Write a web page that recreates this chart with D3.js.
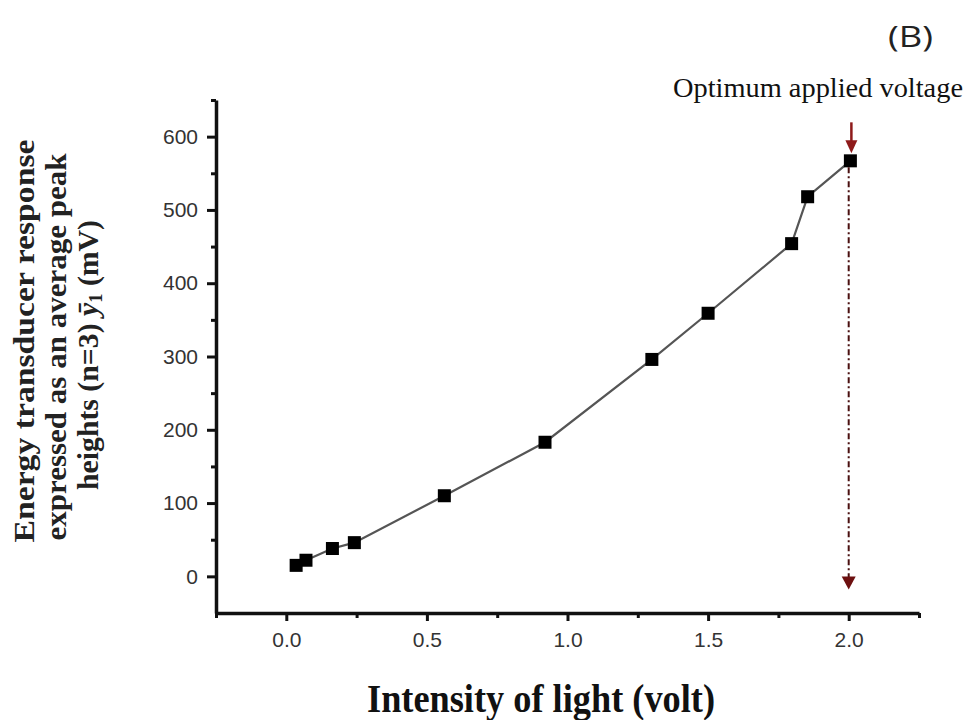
<!DOCTYPE html>
<html>
<head>
<meta charset="utf-8">
<script src="https://cdn.jsdelivr.net/npm/d3@7"></script>
<style>
  body { margin: 0; background: #fff; }
  svg { display: block; }
</style>
</head>
<body>
<div id="vis"></div>
<script>
// values
const voltage = [0.035, 0.07, 0.164, 0.242, 0.562, 0.92, 1.30, 1.50, 1.797, 1.854, 2.006];
const response = [15, 22, 38, 46, 110, 183, 296, 359, 454, 518, 567];

const xMajor = [0.0, 0.5, 1.0, 1.5, 2.0];
const xMinor = [-0.25, 0.25, 0.75, 1.25, 1.75, 2.25];
const yMajor = [0, 100, 200, 300, 400, 500, 600];
const yMinor = [50, 150, 250, 350, 450, 550, 650];

const optimumX = 2.0;
const optimumTop = 567;
const optimumBottom = -18;

const FRAME_WIDTH = 968;
const FRAME_HEIGHT = 720;
const MARGINS = { left: 216, right: 49, top: 100, bottom: 107 };

const X_SCALE = d3.scaleLinear().domain([-0.25, 2.25])
    .range([MARGINS.left, FRAME_WIDTH - MARGINS.right]);
const Y_SCALE = d3.scaleLinear().domain([-50, 650])
    .range([FRAME_HEIGHT - MARGINS.bottom, MARGINS.top]);

const FRAME = d3.select("#vis")
    .append("svg")
    .attr("width", FRAME_WIDTH)
    .attr("height", FRAME_HEIGHT);

const AXIS_Y0 = FRAME_HEIGHT - MARGINS.bottom;

// minor ticks first, then major ticks with labels
FRAME.append("g")
    .attr("transform", "translate(0," + AXIS_Y0 + ")")
    .call(d3.axisBottom(X_SCALE).tickValues(xMinor).tickSize(5).tickFormat(""))
    .call(g => g.select(".domain").remove());
FRAME.append("g")
    .attr("transform", "translate(" + MARGINS.left + ",0)")
    .call(d3.axisLeft(Y_SCALE).tickValues(yMinor).tickSize(5).tickFormat(""))
    .call(g => g.select(".domain").remove());

const xAxis = FRAME.append("g")
    .attr("transform", "translate(0," + AXIS_Y0 + ")")
    .call(d3.axisBottom(X_SCALE).tickValues(xMajor).tickSize(8).tickSizeOuter(0)
        .tickPadding(11).tickFormat(d3.format(".1f")));
const yAxis = FRAME.append("g")
    .attr("transform", "translate(" + MARGINS.left + ",0)")
    .call(d3.axisLeft(Y_SCALE).tickValues(yMajor).tickSize(9).tickSizeOuter(0)
        .tickPadding(9).tickFormat(d3.format("d")));

FRAME.selectAll(".tick line").attr("stroke", "#111").attr("stroke-width", 3);
[xAxis, yAxis].forEach(a => {
    a.select(".domain").attr("stroke", "#111").attr("stroke-width", 3.5);
    a.selectAll("text")
        .attr("font-family", "'Liberation Sans', Arial, sans-serif")
        .attr("font-size", 21)
        .attr("fill", "#333");
});

// connecting line and square markers
const line = d3.line()
    .x((d, i) => X_SCALE(voltage[i]))
    .y(d => Y_SCALE(d));

FRAME.append("path")
    .datum(response)
    .attr("d", line)
    .attr("fill", "none")
    .attr("stroke", "#555")
    .attr("stroke-width", 2.2);

const SQ = 13;
FRAME.selectAll(".pt")
    .data(response)
    .enter()
    .append("rect")
    .attr("class", "pt")
    .attr("x", (d, i) => X_SCALE(voltage[i]) - SQ / 2)
    .attr("y", d => Y_SCALE(d) - SQ / 2)
    .attr("width", SQ)
    .attr("height", SQ)
    .attr("fill", "#000");

// optimum marker: dash-dot drop line with arrowhead
const ox = X_SCALE(optimumX);
const tipY = Y_SCALE(optimumBottom);
FRAME.append("line")
    .attr("x1", ox).attr("x2", ox)
    .attr("y1", Y_SCALE(optimumTop) + SQ / 2)
    .attr("y2", tipY - 12)
    .attr("stroke", "#4a1010")
    .attr("stroke-width", 2)
    .attr("stroke-dasharray", "6,3,2,3");
FRAME.append("path")
    .attr("d", "M" + (ox - 7) + "," + (tipY - 13) + "L" + (ox + 7) + "," + (tipY - 13) + "L" + ox + "," + tipY + "Z")
    .attr("fill", "#6d1010");

// small arrow above top point
const ax = X_SCALE(voltage[voltage.length - 1]) + 1;
const aTip = Y_SCALE(optimumTop) - SQ / 2 - 1;
FRAME.append("line")
    .attr("x1", ax).attr("x2", ax)
    .attr("y1", aTip - 31).attr("y2", aTip - 10)
    .attr("stroke", "#8e1a1a")
    .attr("stroke-width", 2.5);
FRAME.append("path")
    .attr("d", "M" + (ax - 6) + "," + (aTip - 13) + "L" + (ax + 6) + "," + (aTip - 13) + "L" + ax + "," + aTip + "Z")
    .attr("fill", "#8e1a1a");

FRAME.append("text")
    .attr("x", 673)
    .attr("y", 97)
    .attr("textLength", 290)
    .attr("lengthAdjust", "spacingAndGlyphs")
    .attr("font-family", "'Liberation Serif', 'Times New Roman', serif")
    .attr("font-size", 27)
    .attr("fill", "#111")
    .text("Optimum applied voltage");

FRAME.append("text")
    .attr("x", 888)
    .attr("y", 47)
    .attr("textLength", 45)
    .attr("lengthAdjust", "spacingAndGlyphs")
    .attr("font-family", "'Open Sans', 'Liberation Sans', sans-serif")
    .attr("font-size", 29)
    .attr("fill", "#222")
    .text("(B)");

// axis titles
FRAME.append("text")
    .attr("transform", "translate(541,712) scale(1,1.15)")
    .attr("text-anchor", "middle")
    .attr("textLength", 348)
    .attr("lengthAdjust", "spacingAndGlyphs")
    .attr("font-family", "'Liberation Serif', 'Times New Roman', serif")
    .attr("font-weight", "bold")
    .attr("font-size", 35)
    .attr("fill", "#111")
    .text("Intensity of light (volt)");

const yTitle = [
    { x: 34, y: 341, len: 403 },
    { x: 66, y: 347, len: 387 },
    { x: 98, y: 355, len: 270 }
];
const yLines = yTitle.map(t => FRAME.append("text")
    .attr("transform", "translate(" + t.x + "," + t.y + ") rotate(-90)")
    .attr("text-anchor", "middle")
    .attr("textLength", t.len)
    .attr("lengthAdjust", "spacingAndGlyphs")
    .attr("font-family", "'Liberation Serif', 'Times New Roman', serif")
    .attr("font-weight", "bold")
    .attr("font-size", 29)
    .attr("fill", "#222"));
yLines[0].text("Energy transducer response");
yLines[1].text("expressed as an average peak");
yLines[2].append("tspan").text("heights (n=3) ");
yLines[2].append("tspan").attr("font-style", "italic").text("ȳ");
yLines[2].append("tspan").attr("font-size", 18).attr("dy", 4).text("1");
yLines[2].append("tspan").attr("dy", -4).text(" (mV)");
</script>
</body>
</html>
